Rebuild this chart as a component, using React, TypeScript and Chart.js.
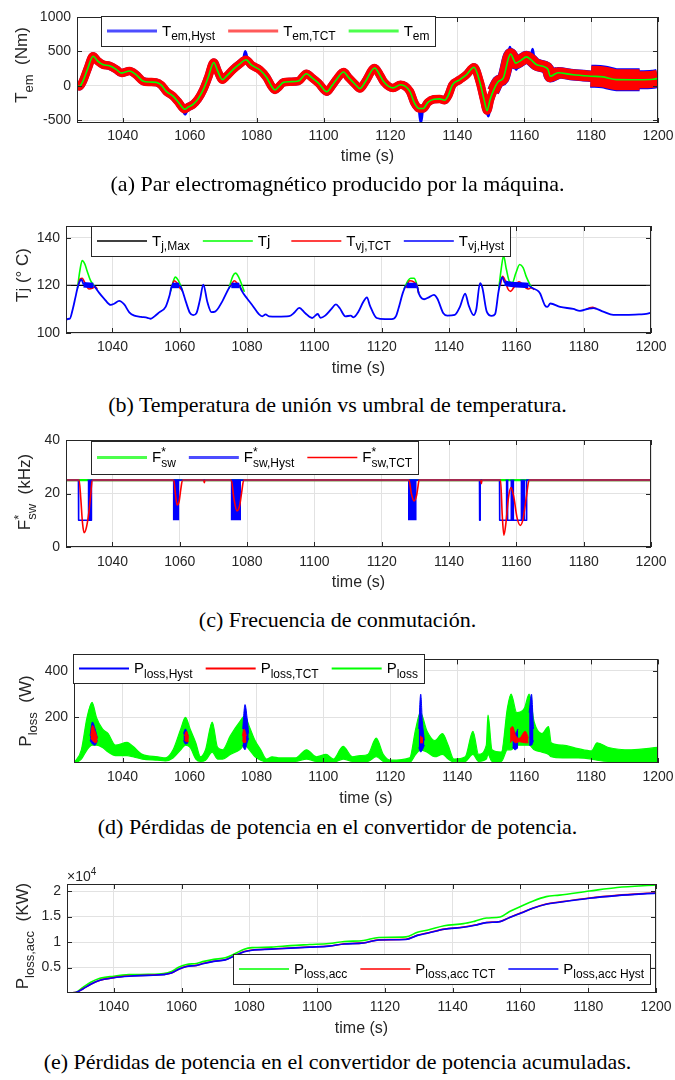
import React, { useEffect, useRef } from "react";
import { Chart, registerables } from "chart.js";

Chart.register(...registerables);

const SANS = '"Liberation Sans", Arial, Helvetica, sans-serif';
const SERIF = '"Liberation Serif", "Times New Roman", serif';
const INK = "#262626";
const GRID = "#e2e2e2";
const BLUE = "#0000ff";
const RED = "#ff0000";
const GREEN = "#00ff00";
const BLACK = "#000000";
const MAROON = "#a3294f";

type P = [number, number | null];
type B3 = [number, number | null, number | null];

// ---------- tick labels ----------
const timeTicks = [1040, 1060, 1080, 1100, 1120, 1140, 1160, 1180, 1200];
const temTicks = [-500, 0, 500, 1000];
const tjTicks = [100, 120, 140];
const fswTicks = [0, 20, 40];
const plossTicks = [200, 400];
const accTicks = [5000, 10000, 15000, 20000];

// ---------- (a) electromagnetic torque (Nm) ----------
const temEm: P[] = [
  [1026.3, 0], [1027, -10], [1028, 60], [1029.5, 250], [1031.1, 430], [1032.5, 360], [1034, 310],
  [1036, 290], [1038, 240], [1039.6, 185], [1042, 215], [1044, 160], [1046, 70], [1048, 55],
  [1050, 50], [1051.5, 10], [1053, -80], [1055, -150], [1056.5, -230], [1058.5, -340], [1059.5, -310],
  [1061, -270], [1062.5, -190], [1064, -60], [1065.5, 120], [1067.2, 340], [1068.3, 220], [1069.8, 90],
  [1071, 140], [1073, 240], [1075, 320], [1076.8, 380], [1078.5, 300], [1081, 230], [1083, 120],
  [1084.5, -10], [1085.5, -60], [1086.5, -20], [1088, 50], [1090, 60], [1092.5, 70], [1094.9, 175],
  [1096.5, 120], [1098.5, 40], [1101, -85], [1102.5, 0], [1104, 100], [1106, 200], [1107.5, 120],
  [1109.5, 20], [1110.9, -40], [1112.5, 60], [1115.3, 258], [1116.8, 160], [1118, 60], [1120.8, -30],
  [1123, 15], [1125.8, -80], [1127.2, -250], [1128.6, -330], [1129.8, -330], [1131.2, -240],
  [1133, -195], [1134.7, -190], [1136.2, -210], [1137.3, -140], [1138.5, 10], [1140.7, 88],
  [1142.7, 160], [1145, 270], [1146.7, 60], [1148, -200], [1148.9, -360], [1149.8, -200],
  [1150.7, -80], [1152.2, 60], [1153.7, 110], [1155.9, 460], [1157.5, 330], [1159, 370],
  [1160.7, 420], [1162, 380], [1163.6, 310], [1166.1, 275], [1167.1, 240], [1167.8, 140],
  [1170.1, 190], [1174.6, 160], [1179.9, 140], [1183.6, 130], [1187.6, 90], [1194.5, 88],
  [1198.5, 95], [1200, 110],
];
const temHystSpikes: P[] = [
  [1058.0, -330], [1058.6, -410], [1059.2, -340], [1059.3, null],
  [1076.1, 370], [1076.6, 500], [1077.2, 380], [1077.3, null],
  [1128.6, -330], [1129.1, -530], [1129.6, -340], [1129.7, null],
  [1148.9, -370], [1149.3, -440], [1149.7, -300], [1149.8, null],
  [1155.3, 400], [1155.7, 560], [1156.2, 460], [1156.3, null],
  [1157.1, 330], [1157.6, 240], [1158.1, 320], [1158.2, null],
  [1162.1, 400], [1162.5, 530], [1162.9, 380], [1163.0, null],
  [1166.5, 270], [1166.9, 160], [1167.3, 180],
];

// ---------- (b) junction temperature (deg C) ----------
const tjMax: P[] = [[1026.2, 120], [1200, 120]];
const tvjHyst: P[] = [
  [1026.2, 100], [1026.25, 105.5], [1027.3, 106], [1028.2, 110], [1029, 115], [1029.6, 118.8],
  [1030.2, 121.5], [1030.8, 122.5], [1031.5, 120.3], [1034.3, 120], [1035, 119], [1036, 117],
  [1037.5, 114.5], [1039.5, 111.8], [1040.5, 112.3], [1042, 113.5], [1043.5, 112], [1045, 108.7],
  [1046.5, 107.3], [1048.5, 106.8], [1050.4, 106.4], [1051.4, 106], [1052.5, 107], [1053.9, 108.7],
  [1055.8, 111], [1057, 116], [1057.7, 120], [1059.8, 120], [1060.6, 118.5], [1061.8, 113.2],
  [1063, 108.5], [1064, 107.5], [1065, 108.5], [1066, 114], [1067, 120.3], [1068.2, 113],
  [1069.4, 108.8], [1070.5, 109], [1072.6, 113.2], [1074.6, 118.8], [1075.3, 120], [1077.7, 120],
  [1078.3, 118], [1080, 114.5], [1081.5, 111.8], [1083.5, 107.9], [1084.5, 107], [1085.5, 107.8],
  [1086.5, 107], [1089, 106.9], [1092.5, 107.1], [1094, 108.5], [1095.5, 110.6], [1097.3, 108.3],
  [1099.3, 106.3], [1101, 108], [1101.8, 106.4], [1103.2, 107.3], [1105, 110], [1106.4, 112],
  [1107.5, 110.5], [1109.2, 107], [1110.8, 107.3], [1111.6, 106.6], [1113.1, 109], [1114.5, 113],
  [1115.6, 115], [1116.5, 111.5], [1118.5, 106.3], [1121, 105.8], [1123, 105.8], [1124.2, 107],
  [1125, 110.4], [1126.4, 117.4], [1127.4, 120], [1130.4, 120], [1131, 116.7], [1132.6, 114.2],
  [1134, 115], [1135.5, 116], [1136.5, 114.5], [1138.3, 108.3], [1139.5, 107.3], [1141.7, 107.6],
  [1143.2, 110.9], [1144.8, 116.6], [1145.8, 111.8], [1147.3, 107.5], [1148.1, 110], [1149.2, 121],
  [1149.9, 119], [1151.2, 109], [1152.7, 107.2], [1153.7, 108], [1154.7, 117.4], [1155.8, 123.5],
  [1156.6, 121], [1163.6, 120], [1164.6, 119], [1166.6, 117.5], [1167.1, 116.5], [1168.5, 111.6],
  [1169.2, 111], [1170.1, 112.4], [1173, 111], [1176.9, 110.1], [1178.9, 109.3], [1181.4, 110.2],
  [1182.9, 110.5], [1185.8, 109], [1188.8, 107.6], [1192.7, 107.6], [1196.6, 107.8], [1198.6, 108],
  [1200, 108.6],
];
const tvjHystBands: [number, number][] = [
  [1031.5, 1034.3], [1057.7, 1059.8], [1075.3, 1077.7], [1127.4, 1130.4], [1156.6, 1163.6],
];
const tjPeaks: P[] = [
  [1029.6, 118.8], [1030.3, 126], [1031, 130.5], [1031.8, 129], [1032.5, 126], [1033.5, 122],
  [1034.5, 120], [1035.2, 119], [1035.3, null],
  [1057.3, 117.5], [1058, 121.5], [1058.7, 123.5], [1059.6, 122], [1060.5, 119], [1060.8, 117.5], [1060.9, null],
  [1074.6, 118.8], [1075.8, 124], [1076.6, 125.2], [1077.5, 123.5], [1078.5, 120], [1079.2, 117.3], [1079.3, null],
  [1126.6, 118.5], [1127.8, 122], [1128.6, 123], [1129.6, 123], [1130.3, 121], [1131, 116.7], [1131.1, null],
  [1154.8, 119], [1155.5, 127], [1156.2, 132.5], [1157, 127], [1158, 121.5], [1158.8, 121.2],
  [1159.8, 125], [1161, 128.8], [1162, 127.5], [1163, 123.5], [1164, 120.5], [1164.6, 119],
];
const tvjTct: P[] = [
  [1029.8, 119.8], [1030.4, 122.8], [1031, 123], [1032, 120.5], [1033, 118.5], [1034, 118.8],
  [1034.8, 119.5], [1035.5, 118.5], [1035.6, null],
  [1057.6, 119.5], [1058.4, 122], [1059.2, 121], [1060, 119], [1060.8, 118], [1060.9, null],
  [1075, 119.5], [1076.2, 122], [1077, 121], [1078, 119], [1078.6, 117.8], [1078.7, null],
  [1127.3, 119], [1128.3, 122], [1129.5, 121.5], [1130.5, 119.8], [1131, 116.7], [1131.1, null],
  [1155.2, 120], [1155.9, 123.8], [1156.7, 122], [1157.5, 118.5], [1158.3, 117.5], [1159.4, 119.5],
  [1160.8, 121.5], [1161.8, 120.5], [1162.8, 119], [1163.6, 118.5], [1164.4, 119], [1165.3, 118.3],
  [1165.4, null],
  [1181.4, 110.4], [1182.6, 110.8], [1183.8, 110.2],
];

// ---------- (c) switching frequency (kHz) ----------
const fswCmd: P[] = [[1026.2, 25], [1200, 25]];
const fswHyst: P[] = [
  [1026.2, 0], [1026.25, 25], [1029.9, 25], [1029.95, 10], [1033.7, 10], [1033.75, 25],
  [1149.05, 25], [1149.1, 10], [1149.2, 10], [1149.25, 25], [1155, 25], [1155.05, 10],
  [1163, 10], [1163.05, 25], [1200, 25],
];
const fswHystBursts: [number, number][] = [
  [1032.6, 1033.7], [1057.9, 1059.9], [1075.1, 1078.2], [1127.8, 1130.4],
  [1156.8, 1157.7], [1158.2, 1159.4], [1161.2, 1162.7],
];
const fswTct: P[] = [
  [1026.2, 0], [1026.25, 25], [1030.1, 25], [1030.6, 18], [1031.1, 9], [1031.6, 5.3], [1032.3, 7.5],
  [1033, 13], [1033.5, 19], [1034, 25], [1058.2, 25], [1058.7, 20], [1059.2, 15.7], [1059.8, 17],
  [1060.3, 21.5], [1060.8, 25], [1067.1, 25], [1067.3, 24], [1067.5, 25], [1075.3, 25], [1076.1, 18],
  [1077, 13.5], [1077.8, 15.5], [1078.4, 20.5], [1079, 25], [1128.1, 25], [1128.8, 20], [1129.6, 17.2],
  [1130.3, 19], [1130.7, 22], [1131.1, 25], [1149.4, 25], [1149.6, 23.7], [1149.8, 25], [1155.3, 25],
  [1155.8, 12], [1156.3, 4.4], [1156.9, 9], [1157.6, 18], [1158.4, 22.2], [1159.2, 19], [1160.2, 11],
  [1161.2, 8.1], [1162, 10.5], [1163, 19], [1163.8, 25], [1200, 25],
];

// ---------- (d) power losses (W): [time, upper, lower] ----------
const plossBand: B3[] = [
  [1025.6, 5, 0], [1027.7, 60, 20], [1029.4, 200, 60], [1030.9, 265, 80], [1032.2, 200, 80],
  [1034, 150, 70], [1035.7, 130, 50], [1037.9, 80, 35], [1041.4, 92, 35], [1043.1, 75, 30],
  [1045.9, 40, 20], [1050.5, 30, 15], [1052.8, 25, 12], [1055.1, 60, 25], [1057.4, 150, 60],
  [1058.8, 200, 80], [1060.2, 150, 70], [1061.9, 90, 20], [1063.3, 30, 10], [1064.8, 60, 15],
  [1066.8, 180, 50], [1068.4, 70, 20], [1069.9, 60, 20], [1072.2, 120, 40], [1075, 180, 60],
  [1076.5, 205, 80], [1077.9, 160, 60], [1079.6, 100, 30], [1081.3, 60, 15], [1083, 20, 8],
  [1084.7, 30, 10], [1087, 25, 10], [1091.6, 25, 10], [1095, 60, 20], [1097.9, 30, 10],
  [1100.8, 40, 10], [1103, 20, 5], [1105.9, 75, 20], [1108.7, 30, 10], [1111, 35, 10],
  [1113.3, 40, 10], [1115.8, 110, 30], [1117.9, 40, 10], [1120.1, 15, 5], [1125.8, 25, 5],
  [1127.6, 150, 40], [1129, 220, 60], [1131, 140, 50], [1133.3, 100, 30], [1135.6, 130, 40],
  [1137.3, 80, 20], [1139, 20, 8], [1142.4, 30, 10], [1144.7, 140, 40], [1146.4, 40, 10],
  [1148.7, 80, 20], [1149.2, 210, 40], [1150.4, 60, 10], [1153.2, 50, 10], [1155, 240, 60],
  [1156.1, 300, 60], [1157.8, 220, 80], [1160.1, 240, 80], [1161.5, 300, 80], [1163, 180, 60],
  [1165.3, 130, 50], [1167.3, 160, 40], [1168.1, 90, 30], [1171.5, 80, 25], [1176.1, 65, 25],
  [1180.1, 55, 20], [1181.8, 90, 15], [1185.2, 70, 10], [1192, 60, 10], [1200, 70, 10],
];
const plossHystPatches: B3[] = [
  [1030.3, 120, 100], [1031, 180, 85], [1031.8, 150, 80], [1032.5, 110, 100], [1032.6, null, null],
  [1058.2, 130, 100], [1058.8, 150, 85], [1059.6, 120, 90], [1059.7, null, null],
  [1075.9, 150, 80], [1076.6, 255, 60], [1077.2, 200, 90], [1077.7, 130, 110], [1077.8, null, null],
  [1128.5, 150, 70], [1129.1, 300, 50], [1129.6, 180, 60], [1130.2, 100, 80], [1130.3, null, null],
  [1156.5, 160, 70], [1157.3, 130, 60], [1158.2, 150, 70], [1158.3, null, null],
  [1161.5, 220, 80], [1162.2, 300, 80], [1162.8, 150, 100],
];
const plossTctPatches: B3[] = [
  [1030.5, 120, 110], [1031, 165, 100], [1031.8, 140, 90], [1032.5, 110, 95], [1032.6, null, null],
  [1058.5, 120, 100], [1059.1, 140, 95], [1059.8, 110, 95], [1059.9, null, null],
  [1075.8, 120, 100], [1076.3, 150, 90], [1077, 120, 95], [1077.1, null, null],
  [1128.9, 120, 90], [1129.8, 110, 90], [1129.9, null, null],
  [1155.8, 150, 90], [1156.5, 160, 100], [1157.5, 120, 90], [1158.6, 110, 95], [1160.3, 140, 90],
  [1161.3, 110, 90],
];

// ---------- (e) accumulated losses ----------
const lossAcc: P[] = [
  [1026.2, 50], [1028.7, 100], [1030.9, 1100], [1033.2, 2100], [1035.5, 2800], [1040, 3300],
  [1044.5, 3600], [1050.2, 3650], [1054.7, 3800], [1057, 4200], [1059.3, 5100], [1061.5, 5600],
  [1064.4, 5800], [1066.6, 6200], [1069.5, 6600], [1072.9, 6900], [1075.7, 7700], [1078.5, 8600],
  [1080.8, 8900], [1086.5, 9000], [1092.2, 9300], [1097.8, 9500], [1103.5, 9700], [1108, 10100],
  [1113.7, 10300], [1118.2, 10900], [1126.2, 11000], [1129.6, 11900], [1133, 12400], [1137.5, 13200],
  [1143.2, 13600], [1146.6, 14100], [1150, 14700], [1154, 14900], [1156.8, 16000], [1160.2, 17000],
  [1163.6, 18000], [1167.6, 18900], [1171.5, 19200], [1180.4, 20000], [1188.5, 20700], [1200, 21200],
];
const lossAccTct: P[] = [
  [1026.2, 50], [1028.7, 100], [1030.9, 820], [1033.2, 1720], [1035.5, 2420], [1040, 3020],
  [1044.5, 3320], [1050.2, 3470], [1054.7, 3620], [1057, 3920], [1059.3, 4720], [1061.5, 5220],
  [1064.4, 5420], [1066.6, 5820], [1069.5, 6220], [1072.9, 6520], [1075.7, 7320], [1078.5, 8120],
  [1080.8, 8420], [1086.5, 8620], [1092.2, 8830], [1097.8, 9030], [1103.5, 9230], [1108, 9630],
  [1113.7, 9830], [1118.2, 10430], [1126.2, 10530], [1129.6, 11330], [1133, 11830], [1137.5, 12530],
  [1143.2, 12930], [1146.6, 13330], [1150, 13830], [1154, 14030], [1156.8, 14830], [1160.2, 15730],
  [1163.6, 16640], [1167.6, 17440], [1171.5, 17840], [1180.4, 18640], [1188.5, 19150], [1200, 19650],
];
const lossAccHyst: P[] = [
  [1026.2, 50], [1028.7, 100], [1030.9, 800], [1033.2, 1700], [1035.5, 2400], [1040, 3000],
  [1044.5, 3300], [1050.2, 3450], [1054.7, 3600], [1057, 3900], [1059.3, 4700], [1061.5, 5200],
  [1064.4, 5400], [1066.6, 5800], [1069.5, 6200], [1072.9, 6500], [1075.7, 7300], [1078.5, 8100],
  [1080.8, 8400], [1086.5, 8600], [1092.2, 8800], [1097.8, 9000], [1103.5, 9200], [1108, 9600],
  [1113.7, 9800], [1118.2, 10400], [1126.2, 10500], [1129.6, 11300], [1133, 11800], [1137.5, 12500],
  [1143.2, 12900], [1146.6, 13300], [1150, 13800], [1154, 14000], [1156.8, 14800], [1160.2, 15700],
  [1163.6, 16600], [1167.6, 17400], [1171.5, 17800], [1180.4, 18600], [1188.5, 19100], [1200, 19600],
];

const captions = [
  "(a) Par electromagnético producido por la máquina.",
  "(b) Temperatura de unión vs umbral de temperatura.",
  "(c) Frecuencia de conmutación.",
  "(d) Pérdidas de potencia en el convertidor de potencia.",
  "(e) Pérdidas de potencia en el convertidor de potencia acumuladas.",
];

// ---------- helpers ----------
const pts = (a: P[]) => a.map(([x, y]) => ({ x, y }));
const bandPts = (a: B3[], i: 1 | 2) => a.map((r) => ({ x: r[0], y: r[i] }));
const burstPts = (a: [number, number][]) => {
  const out: { x: number; y: number | null }[] = [];
  a.forEach(([s, e]) => {
    out.push({ x: s, y: 25 }, { x: e, y: 25 }, { x: e + 0.001, y: null });
  });
  return out;
};
// points of a series within [from, to], plus one neighbour on each side so pieces join
const sectionPts = (a: P[], from: number, to: number) => {
  const idx = a.map((p, i) => (p[0] >= from && p[0] <= to ? i : -1)).filter((i) => i >= 0);
  if (!idx.length) return [];
  const s = Math.max(0, idx[0] - 1);
  const e = Math.min(a.length - 1, idx[idx.length - 1] + 1);
  return pts(a.slice(s, e + 1));
};

// thickness of the switching-ripple envelopes of panel (a): [from, to, TCT width, Hyst width]
const temRipple: [number, number, number, number][] = [
  [1026, 1152, 8.5, 8], [1152, 1168, 12, 12.5], [1168, 1181, 11, 11.5],
  [1181, 1188, 21, 23], [1188, 1200, 17, 19],
];

type Rich = { t: string; sub?: string; sup?: string };
type LegendItem = { color: string; width: number; label: Rich[]; extra?: number };

function richWidth(ctx: CanvasRenderingContext2D, parts: Rich[], main: number, small: number) {
  let w = 0;
  for (const p of parts) {
    ctx.font = `${main}px ${SANS}`;
    w += ctx.measureText(p.t).width;
    ctx.font = `${small}px ${SANS}`;
    const a = p.sub ? ctx.measureText(p.sub).width : 0;
    const b = p.sup ? ctx.measureText(p.sup).width : 0;
    w += Math.max(a, b);
  }
  return w;
}

function drawRich(ctx: CanvasRenderingContext2D, parts: Rich[], x: number, baseY: number, main: number, small: number) {
  ctx.textBaseline = "alphabetic";
  ctx.textAlign = "left";
  for (const p of parts) {
    ctx.font = `${main}px ${SANS}`;
    ctx.fillText(p.t, x, baseY);
    x += ctx.measureText(p.t).width;
    ctx.font = `${small}px ${SANS}`;
    let adv = 0;
    if (p.sub) {
      ctx.fillText(p.sub, x, baseY + main * 0.33);
      adv = ctx.measureText(p.sub).width;
    }
    if (p.sup) {
      ctx.fillText(p.sup, x, baseY - main * 0.42);
      adv = Math.max(adv, ctx.measureText(p.sup).width);
    }
    x += adv;
  }
  return x;
}

interface PanelSpec {
  top: number; height: number; L: number; R: number; T: number; B: number;
  xMin: number; yMin: number; yMax: number; yTicks: number[]; yFmt: (v: number) => string;
  tickY: number; titleY: number;
  yTitle: Rich[]; yTitleX: number; yTitleY: number;
  legend: { x: number; y: number; h: number; items: LegendItem[] };
  datasets: any[];
  exponent?: { x: number; y: number };
}

const inBand = (bands: [number, number][], a: number, b: number) =>
  bands.some(([s, e]) => a >= s - 1e-6 && b <= e + 1e-6);

const panels: PanelSpec[] = [
  {
    top: 0, height: 172, L: 77, R: 658, T: 17, B: 123, xMin: 1026.3, yMin: -540, yMax: 1000,
    yTicks: temTicks, yFmt: (v) => String(v), tickY: 136, titleY: 157,
    yTitle: [{ t: "T", sub: "em" }, { t: "  (Nm)" }], yTitleX: 27, yTitleY: 65,
    legend: {
      x: 101, y: 16, h: 30,
      items: [
        { color: "#4d4dff", width: 3, label: [{ t: "T", sub: "em,Hyst" }] },
        { color: "#ff5a5a", width: 3, label: [{ t: "T", sub: "em,TCT" }] },
        { color: "#4dff4d", width: 3, label: [{ t: "T", sub: "em" }] },
      ],
    },
    datasets: [
      { data: pts(temEm), borderColor: GREEN, borderWidth: 1.6 },
      ...temRipple.map(([f, t, w]) => ({ data: sectionPts(temEm, f, t), borderColor: RED, borderWidth: w })),
      { data: pts(temHystSpikes), borderColor: BLUE, borderWidth: 3 },
      ...temRipple.map(([f, t, , w]) => ({ data: sectionPts(temEm, f, t), borderColor: BLUE, borderWidth: w })),
    ],
  },
  {
    top: 205, height: 175, L: 66, R: 651, T: 226, B: 333, xMin: 1026.2, yMin: 100, yMax: 145,
    yTicks: tjTicks, yFmt: (v) => String(v), tickY: 347, titleY: 369,
    yTitle: [{ t: "Tj (° C)" }], yTitleX: 28, yTitleY: 275,
    legend: {
      x: 91, y: 226, h: 30,
      items: [
        { color: BLACK, width: 1.5, label: [{ t: "T", sub: "j,Max" }] },
        { color: GREEN, width: 1.5, label: [{ t: "Tj" }], extra: 8 },
        { color: RED, width: 1.5, label: [{ t: "T", sub: "vj,TCT" }] },
        { color: BLUE, width: 1.5, label: [{ t: "T", sub: "vj,Hyst" }] },
      ],
    },
    datasets: [
      { data: pts(tvjHyst), borderColor: BLUE, borderWidth: 1.8,
        segment: { borderWidth: (c: any) => (inBand(tvjHystBands, c.p0.parsed.x, c.p1.parsed.x) ? 5.5 : undefined) } },
      { data: pts(tvjTct), borderColor: RED, borderWidth: 1.6 },
      { data: pts(tjPeaks), borderColor: GREEN, borderWidth: 1.6 },
      { data: pts(tjMax), borderColor: BLACK, borderWidth: 1.2 },
    ],
  },
  {
    top: 425, height: 170, L: 66, R: 651, T: 440, B: 547, xMin: 1026.2, yMin: 0, yMax: 40,
    yTicks: fswTicks, yFmt: (v) => String(v), tickY: 562, titleY: 583,
    yTitle: [{ t: "F", sup: "*", sub: "sw" }, { t: "  (kHz)" }], yTitleX: 30, yTitleY: 492,
    legend: {
      x: 91, y: 441, h: 33,
      items: [
        { color: "#4dff4d", width: 3, label: [{ t: "F", sup: "*", sub: "sw" }] },
        { color: "#4d4dff", width: 3, label: [{ t: "F", sup: "*", sub: "sw,Hyst" }] },
        { color: RED, width: 1.5, label: [{ t: "F", sup: "*", sub: "sw,TCT" }] },
      ],
    },
    datasets: [
      { data: pts(fswTct), borderColor: RED, borderWidth: 1.6,
        segment: {
          borderColor: (c: any) =>
            (c.p0.parsed.y >= 24.99 && c.p1.parsed.y >= 24.99) || Math.abs(c.p1.parsed.x - c.p0.parsed.x) < 0.1
              ? MAROON : undefined,
          borderWidth: (c: any) => (c.p0.parsed.y >= 24.99 && c.p1.parsed.y >= 24.99 ? 2.2 : undefined),
        } },
      { data: burstPts(fswHystBursts), borderColor: BLUE, borderWidth: 1, backgroundColor: BLUE, fill: { value: 10 }, cubicInterpolationMode: "default" },
      { data: pts(fswHyst), borderColor: BLUE, borderWidth: 1.6, cubicInterpolationMode: "default" },
      { data: pts(fswCmd), borderColor: GREEN, borderWidth: 2.2, cubicInterpolationMode: "default" },
    ],
  },
  {
    top: 645, height: 165, L: 74, R: 658, T: 656, B: 763, xMin: 1025.5, yMin: 3, yMax: 450,
    yTicks: plossTicks, yFmt: (v) => String(v), tickY: 777, titleY: 799,
    yTitle: [{ t: "P", sub: "loss" }, { t: "  (W)" }], yTitleX: 31, yTitleY: 711,
    legend: {
      x: 73, y: 654, h: 29,
      items: [
        { color: BLUE, width: 2, label: [{ t: "P", sub: "loss,Hyst" }] },
        { color: RED, width: 2, label: [{ t: "P", sub: "loss,TCT" }] },
        { color: GREEN, width: 2, label: [{ t: "P", sub: "loss" }] },
      ],
    },
    datasets: [
      { data: bandPts(plossTctPatches, 1), borderColor: RED, borderWidth: 1, backgroundColor: RED, fill: "+1" },
      { data: bandPts(plossTctPatches, 2), borderColor: RED, borderWidth: 1 },
      { data: bandPts(plossHystPatches, 1), borderColor: BLUE, borderWidth: 1, backgroundColor: BLUE, fill: "+1" },
      { data: bandPts(plossHystPatches, 2), borderColor: BLUE, borderWidth: 1 },
      { data: bandPts(plossBand, 1), borderColor: GREEN, borderWidth: 1.2, backgroundColor: GREEN, fill: "+1" },
      { data: bandPts(plossBand, 2), borderColor: GREEN, borderWidth: 1.2 },
    ],
  },
  {
    top: 862, height: 180, L: 67, R: 656, T: 884, B: 993, xMin: 1026.2, yMin: 0, yMax: 21380,
    yTicks: accTicks, yFmt: (v) => String(v / 10000), tickY: 1007, titleY: 1029,
    yTitle: [{ t: "P", sub: "loss,acc" }, { t: "  (KW)" }], yTitleX: 28, yTitleY: 936,
    exponent: { x: 67, y: 881 },
    legend: {
      x: 233, y: 954, h: 30,
      items: [
        { color: GREEN, width: 1.5, label: [{ t: "P", sub: "loss,acc" }] },
        { color: RED, width: 1.5, label: [{ t: "P", sub: "loss,acc TCT" }] },
        { color: BLUE, width: 1.5, label: [{ t: "P", sub: "loss,acc Hyst" }] },
      ],
    },
    datasets: [
      { data: pts(lossAccHyst), borderColor: BLUE, borderWidth: 1.6 },
      { data: pts(lossAccTct), borderColor: RED, borderWidth: 1.6 },
      { data: pts(lossAcc), borderColor: GREEN, borderWidth: 1.6 },
    ],
  },
];

function drawLegend(ctx: CanvasRenderingContext2D, lg: PanelSpec["legend"], top: number) {
  const pad = 6, lineLen = 50, gap = 5, itemGap = 13, main = 15, small = 12;
  const widths = lg.items.map((it) => richWidth(ctx, it.label, main, small));
  let w = pad * 2 + (lg.items.length - 1) * itemGap;
  lg.items.forEach((it, i) => { w += lineLen + gap + widths[i] + (it.extra || 0); });
  const x0 = Math.round(lg.x), y0 = Math.round(lg.y - top);
  ctx.fillStyle = "#ffffff";
  ctx.fillRect(x0, y0, w, lg.h);
  ctx.strokeStyle = INK;
  ctx.lineWidth = 1;
  ctx.strokeRect(x0 + 0.5, y0 + 0.5, Math.round(w), lg.h);
  const cy = y0 + lg.h / 2;
  let x = x0 + pad;
  lg.items.forEach((it, i) => {
    ctx.strokeStyle = it.color;
    ctx.lineWidth = it.width;
    ctx.beginPath();
    ctx.moveTo(x, cy);
    ctx.lineTo(x + lineLen, cy);
    ctx.stroke();
    x += lineLen + gap;
    ctx.fillStyle = "#000000";
    drawRich(ctx, it.label, x, cy + 4.5, main, small);
    x += widths[i] + itemGap + (it.extra || 0);
  });
}

function Panel({ spec }: { spec: PanelSpec }) {
  const ref = useRef<HTMLCanvasElement>(null);
  useEffect(() => {
    const s = spec;
    const deco = {
      id: "deco",
      afterDraw(chart: any) {
        const ctx = chart.ctx as CanvasRenderingContext2D;
        const ca = chart.chartArea;
        const xs = chart.scales.x;
        const ys = chart.scales.y;
        ctx.save();
        ctx.strokeStyle = INK;
        ctx.lineWidth = 1;
        ctx.beginPath();
        for (const v of timeTicks) {
          const px = Math.round(xs.getPixelForValue(v)) + 0.5;
          ctx.moveTo(px, ca.bottom); ctx.lineTo(px, ca.bottom - 5);
          ctx.moveTo(px, ca.top); ctx.lineTo(px, ca.top + 5);
        }
        for (const v of s.yTicks) {
          const py = Math.round(ys.getPixelForValue(v)) + 0.5;
          ctx.moveTo(ca.left, py); ctx.lineTo(ca.left + 5, py);
          ctx.moveTo(ca.right, py); ctx.lineTo(ca.right - 5, py);
        }
        ctx.stroke();
        ctx.strokeRect(Math.round(ca.left) + 0.5, Math.round(ca.top) + 0.5,
          Math.round(ca.right - ca.left) - 1, Math.round(ca.bottom - ca.top) - 1);

        ctx.fillStyle = INK;
        ctx.font = `14px ${SANS}`;
        ctx.textAlign = "center";
        ctx.textBaseline = "middle";
        for (const v of timeTicks) ctx.fillText(String(v), xs.getPixelForValue(v), s.tickY - s.top);
        ctx.font = `16px ${SANS}`;
        ctx.fillText("time (s)", (ca.left + ca.right) / 2, s.titleY - s.top);

        ctx.save();
        ctx.translate(s.yTitleX, s.yTitleY - s.top);
        ctx.rotate(-Math.PI / 2);
        ctx.fillStyle = INK;
        const tw = richWidth(ctx, s.yTitle, 17, 13);
        drawRich(ctx, s.yTitle, -tw / 2, 0, 17, 13);
        ctx.restore();

        if (s.exponent) {
          ctx.fillStyle = INK;
          drawRich(ctx, [{ t: "×10", sup: "4" }], s.exponent.x, s.exponent.y - s.top, 14, 10);
        }

        drawLegend(ctx, s.legend, s.top);
        ctx.restore();
      },
    };

    const chart = new Chart(ref.current as HTMLCanvasElement, {
      type: "line",
      data: {
        datasets: s.datasets.map((d) => ({
          pointRadius: 0, tension: 0, spanGaps: false, clip: 0, fill: false,
          borderJoinStyle: "round", cubicInterpolationMode: "monotone", ...d,
        })),
      },
      options: {
        animation: false,
        responsive: false,
        maintainAspectRatio: false,
        events: [],
        layout: { padding: { left: 0, right: 675 - s.R, top: s.T - s.top, bottom: 0 } },
        plugins: { legend: { display: false }, tooltip: { enabled: false } },
        scales: {
          x: {
            type: "linear", min: s.xMin, max: 1200,
            afterBuildTicks: (sc: any) => { sc.ticks = timeTicks.map((v) => ({ value: v })); },
            ticks: { display: false },
            grid: { color: GRID, drawTicks: false, lineWidth: 1 },
            border: { display: false },
            afterFit: (sc: any) => { sc.height = s.top + s.height - s.B; },
          },
          y: {
            type: "linear", min: s.yMin, max: s.yMax,
            afterBuildTicks: (sc: any) => { sc.ticks = s.yTicks.map((v) => ({ value: v })); },
            ticks: {
              color: INK, padding: 6, autoSkip: false,
              font: { family: SANS, size: 14 },
              callback: (v: any) => s.yFmt(Number(v)),
            },
            grid: { color: GRID, drawTicks: false, lineWidth: 1 },
            border: { display: false },
            afterFit: (sc: any) => { sc.width = s.L; },
          },
        },
      } as any,
      plugins: [deco],
    });
    return () => chart.destroy();
  }, [spec]);
  return (
    <canvas
      ref={ref}
      width={675}
      height={spec.height}
      style={{ position: "absolute", left: 0, top: spec.top, width: 675, height: spec.height }}
    />
  );
}

const captionCenters = [184, 405, 620, 827, 1062];

export default function App() {
  return (
    <div style={{ position: "absolute", left: 0, top: 0, width: 675, height: 1080, background: "#ffffff", overflow: "hidden" }}>
      {panels.map((p, i) => (
        <Panel key={i} spec={p} />
      ))}
      {captions.map((c, i) => (
        <div
          key={"c" + i}
          style={{
            position: "absolute", left: 0, width: 675, top: captionCenters[i] - 13, height: 26,
            lineHeight: "26px", textAlign: "center", fontFamily: SERIF, fontSize: 22, color: "#000",
            whiteSpace: "nowrap",
          }}
        >
          {c}
        </div>
      ))}
    </div>
  );
}
